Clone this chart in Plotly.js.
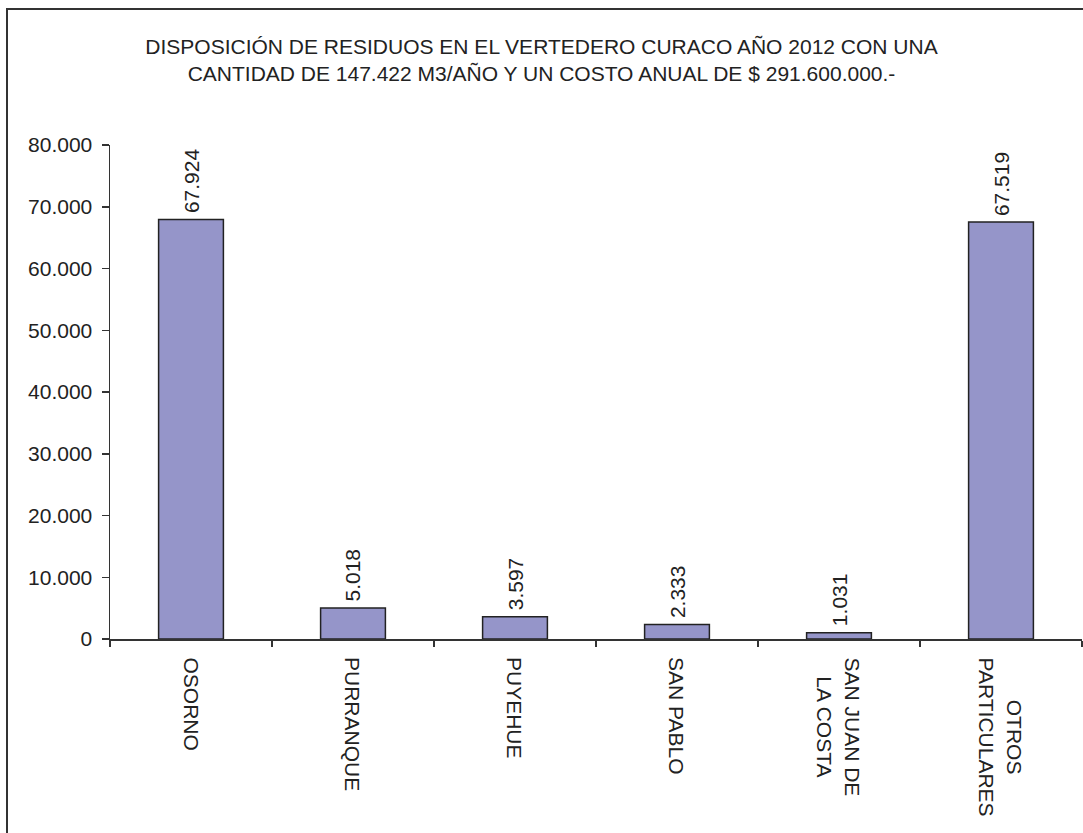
<!DOCTYPE html>
<html>
<head>
<meta charset="utf-8">
<script src="https://cdn.plot.ly/plotly-3.0.1.min.js"></script>
<style>
  html, body { margin: 0; padding: 0; background: #fff; overflow: hidden; }
  #chart { position: absolute; left: 0; top: 0; width: 1083px; height: 833px; }
  #frame { position: absolute; left: 6px; top: 8px; width: 1200px; height: 1000px;
           border-left: 2px solid #333; border-top: 2px solid #333; pointer-events: none; }
</style>
</head>
<body>
<div id="chart"></div>
<div id="frame"></div>
<script>
const categories = ["OSORNO", "PURRANQUE", "PUYEHUE", "SAN PABLO", "SAN JUAN DE LA COSTA", "OTROS PARTICULARES"];
const tickLabels = ["OSORNO", "PURRANQUE", "PUYEHUE", "SAN PABLO", "SAN JUAN DE<br>LA COSTA", "OTROS<br>PARTICULARES"];
const values = [67924, 5018, 3597, 2333, 1031, 67519];
const titleText = "DISPOSICIÓN DE RESIDUOS EN EL VERTEDERO CURACO AÑO 2012 CON UNA<br>CANTIDAD DE 147.422 M3/AÑO Y UN COSTO ANUAL DE $ 291.600.000.-";

const FONT = "Liberation Sans, Arial, sans-serif";
const TXT = "#222";

function fmt(v) {
  return String(Math.round(v)).replace(/\B(?=(\d{3})+(?!\d))/g, ".");
}

const trace = {
  type: "bar",
  x: categories,
  y: values,
  marker: { color: "#9595c9", line: { color: "#222", width: 1.5 } },
  hoverinfo: "skip"
};

const annotations = [];
categories.forEach((c, i) => {
  // value label above each bar
  annotations.push({
    x: c, xref: "x", y: values[i], yref: "y",
    text: fmt(values[i]), textangle: -90,
    xanchor: "center", yanchor: "bottom", yshift: 4,
    showarrow: false,
    font: { family: FONT, size: 21, color: TXT }
  });
  // category label below the axis
  annotations.push({
    x: c, xref: "x", y: 0, yref: "paper",
    text: tickLabels[i], textangle: 90, align: "center",
    xanchor: "center", yanchor: "top", yshift: -16,
    showarrow: false,
    font: { family: FONT, size: 21, color: TXT }
  });
});

const layout = {
  width: 1083,
  height: 833,
  separators: ",.",
  paper_bgcolor: "rgba(0,0,0,0)",
  plot_bgcolor: "rgba(0,0,0,0)",
  margin: { l: 110, r: 1, t: 145, b: 194 },
  font: { family: FONT, size: 21, color: TXT },
  title: {
    text: titleText,
    font: { family: FONT, size: 21, color: TXT },
    x: 0.5, xref: "container", xanchor: "center",
    y: 1 - 54 / 833, yref: "container", yanchor: "middle"
  },
  bargap: 0.6,
  showlegend: false,
  annotations: annotations,
  xaxis: {
    type: "category",
    showticklabels: false,
    tickson: "boundaries",
    ticks: "outside",
    ticklen: 6,
    tickwidth: 1.5,
    tickcolor: "#333",
    showline: true,
    linecolor: "#333",
    linewidth: 1.5,
    showgrid: false,
    zeroline: false,
    fixedrange: true
  },
  yaxis: {
    range: [0, 80000],
    tickvals: [0, 10000, 20000, 30000, 40000, 50000, 60000, 70000, 80000],
    tickformat: ",.0f",
    ticks: "outside",
    ticklen: 7,
    tickwidth: 1.5,
    tickcolor: "#333",
    ticklabelstandoff: 5,
    showline: true,
    linecolor: "#333",
    linewidth: 1.5,
    showgrid: false,
    zeroline: false,
    tickfont: { family: FONT, size: 21, color: TXT },
    fixedrange: true
  }
};

Plotly.newPlot("chart", [trace], layout, { displayModeBar: false, staticPlot: true });
</script>
</body>
</html>
